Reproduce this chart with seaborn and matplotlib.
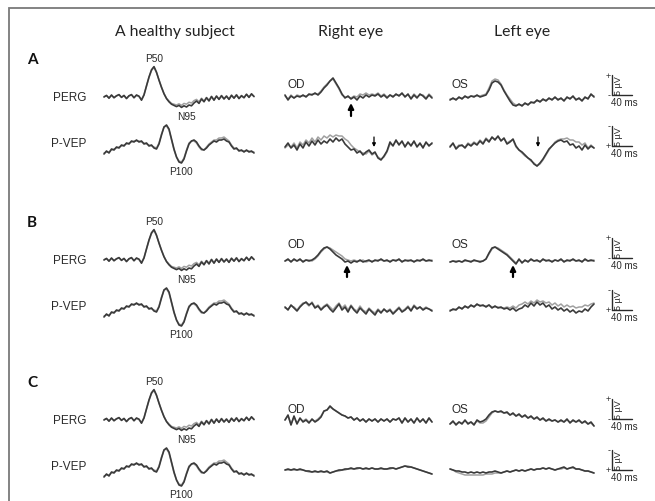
import numpy as np
import matplotlib
matplotlib.use("Agg")
import matplotlib.pyplot as plt
from matplotlib.patches import Rectangle, FancyArrowPatch
import seaborn as sns

sns.set_theme(style="white")
plt.rcParams['font.family'] = ['Liberation Sans', 'DejaVu Sans']

# ---------------- data (µV; VEP stored with positive = downward, negative-up display) ----------------
column_titles = ["A healthy subject", "Right eye", "Left eye"]
row_letters = ["A", "B", "C"]
signal_labels = ["PERG", "P-VEP"]
eye_labels = ["OD", "OS"]
peak_labels = ["P50", "N95", "P100"]
sweep_ms = 300

healthy_perg_dark = [0.0, 0.4, -0.3, 0.5, -0.2, 0.3, 0.6, -0.1, 0.4, -0.4, 0.3, 0.6, -0.2, 0.5, 0.2, -0.8,
                     0.5, 2.8, 5.0, 6.8, 7.6, 6.2, 4.2, 2.4, 0.8, -0.4, -1.2, -1.8, -2.1, -2.4, -2.1, -2.6,
                     -2.2, -2.5, -2.0, -2.2, -1.5, -1.0, -1.6, -0.5, -1.2,
                     -0.2, -1.0, 0.1, -0.8, 0.2, -0.6, 0.3, -0.5, 0.2, -0.6, 0.4, -0.3, 0.5, -0.4, 0.3,
                     -0.2, 0.7, -0.1, 0.8, 0.1]
healthy_perg_light = [0.1, 0.3, -0.2, 0.4, -0.1, 0.3, 0.5, 0.0, 0.3, -0.3, 0.3, 0.5, -0.1, 0.4, 0.1, -0.6,
                      0.6, 2.7, 4.9, 6.6, 7.4, 6.1, 4.3, 2.5, 0.9, -0.3, -1.0, -1.6, -1.8, -2.0, -1.7, -2.1,
                      -1.6, -1.8, -1.3, -1.5, -0.9, -0.6, -1.2, -0.3, -1.0,
                      -0.1, -0.8, 0.2, -0.7, 0.3, -0.5, 0.4, -0.4, 0.3, -0.5, 0.5, -0.2, 0.6, -0.3, 0.4,
                      -0.1, 0.6, 0.0, 0.7, 0.2]
healthy_vep_dark = [2.5, 1.75, 2.25, 1.25, 1.5, 0.75, 1.0, 0.25, 0.5, -0.25, 0, -0.75, -0.5, -1.0, -0.5,
                    -0.75, 0, -0.25, 0.5, 0.25, 1.0, 1.25, 0, -2.25, -4.25, -4.75, -3.75, -1.25, 1.25, 3.25,
                    4.5, 4.75, 3.75, 1.75, 0, -0.75, -1.0, -0.5, 0.5, 1.25, 1.5, 1.0, 0.25, -0.25, -0.75,
                    -0.5, -1.0, -1.0, -1.25, -0.75, -0.5, 0.5, 1.25, 1.0, 1.75, 1.5, 2.0, 1.5, 2.0, 1.75, 2.25]
healthy_vep_light = [2.25, 2.0, 2.0, 1.5, 1.25, 1.0, 0.75, 0.5, 0.25, 0, -0.25, -0.5, -0.75, -0.75, -0.75,
                     -0.5, -0.25, 0, 0.25, 0.5, 0.75, 1.0, -0.25, -2.5, -4.25, -4.5, -3.5, -1.0, 1.5, 3.25,
                     4.25, 4.5, 3.5, 1.5, -0.25, -0.75, -0.75, -0.25, 0.75, 1.5, 1.5, 0.75, 0, -0.5, -1.0,
                     -1.0, -1.5, -1.5, -1.75, -1.25, -0.75, 0.25, 1.0, 1.25, 1.5, 1.75, 1.75, 1.75, 1.75, 2.0, 2.0]

# Row A
ra_perg_dark = [0.5, -0.75, 0.25, -0.25, 0.25, 0, 0.5, 0, 0.75, 0.5,
                1.0, 0.5, 1.25, 2.25, 3.0, 4.0, 4.75, 3.5, 2.25, 0.75,
                -0.25, 0.25, -0.5, 0, -0.75, 0.25, -0.25, 0.5, 0, 0.5,
                0.25, 0.75, 0, 0.5, -0.25, 0.5, 0, 0.75, 0.25, 1.0,
                0, 0.75, -0.5, 0.5, -0.25, 0.75, 0.25, -0.5, 0.5, -0.25]
ra_perg_light = [0.25, -0.5, 0.5, -0.25, 0.5, 0.25, 0.25, 0.25, 0.5, 0.75,
                 0.75, 0.75, 1.5, 2.5, 3.25, 4.0, 4.5, 3.25, 2.0, 0.5,
                 0, 0, -0.25, 0.25, 0, 0.75, 0.5, 1.0, 0.5, 0.75,
                 0.5, 1.0, 0.25, 0.75, 0, 0.5, 0.25, 0.5, 0.5, 0.75,
                 0.25, 0.5, -0.25, 0.75, 0, 0.5, 0.5, -0.25, 0.75, 0]
ra_vep_dark = [0, -1.0, 0.25, -0.5, 0.75, -0.75, 0.25, -1.25, -0.25, -1.5,
               -0.5, -1.75, -0.75, -1.5, -1.0, -2.0, -1.25, -2.25, -1.5, -2.0,
               -0.75, 0, 0.75, 0.5, 1.5, 1.0, 2.0, 1.25, 0.75, 1.75,
               1.25, 2.75, 3.25, 2.25, 1.0, -1.25, -0.25, -1.75, -0.5, -1.5,
               0, -1.25, -0.25, -1.5, 0, -1.0, 0.25, -1.25, -0.25, -1.0]
ra_vep_light = [0.25, -0.5, 0, -1.0, 0.25, -1.25, -0.5, -1.75, -1.0, -2.25,
                -1.25, -2.5, -1.75, -2.75, -2.25, -3.0, -2.5, -3.0, -2.75, -2.75,
                -2.0, -1.5, -0.5, 0.25, 0.75, 1.25, 1.5, 1.75, 1.0, 2.0,
                1.5, 2.5, 3.0, 2.5, 1.25, -0.75, -0.5, -1.5, -0.75, -1.25,
                -0.25, -1.0, -0.5, -1.25, -0.25, -0.75, 0, -1.0, -0.5, -0.75]
la_perg_dark = [-0.75, -0.25, -0.75, 0, -0.5, 0.25, -0.25, 0.25, 0, 0.5,
                0, 0.25, 0.5, 1.75, 3.5, 4.0, 3.75, 3.0, 1.5, 0.25,
                -1.0, -2.0, -2.25, -1.75, -2.25, -1.5, -2.0, -1.25, -1.5, -0.75,
                -1.25, -0.5, -1.0, -0.25, -0.75, 0, -0.75, -0.25, -1.0, 0,
                -0.5, 0.25, -0.75, -0.25, -1.0, 0, -0.5, 0.75, 0]
la_perg_light = [-0.5, -0.5, -0.5, -0.25, -0.25, 0, 0, 0.25, 0.25, 0.25,
                 0.25, 0.5, 0.75, 2.25, 4.0, 4.5, 4.25, 3.25, 1.75, 0.5,
                 -0.5, -1.5, -2.0, -2.0, -2.0, -1.75, -1.75, -1.5, -1.25, -1.0,
                 -1.0, -0.75, -0.75, -0.5, -0.5, -0.25, -0.5, -0.5, -0.75, -0.25,
                 -0.25, 0, -0.5, -0.5, -0.75, -0.25, -0.25, 0.5, 0.25]
la_vep_dark = [0.25, -0.75, 0.75, 0, -0.25, 0.5, -0.5, 0, -0.75, -0.25,
               -1.25, -0.5, -1.75, -1.0, -2.25, -1.5, -2.5, -1.25, -2.0, -0.5,
               -1.0, -1.75, 0, 1.0, 1.5, 2.25, 3.0, 3.5, 4.5, 5.0,
               4.25, 3.25, 2.0, 0.75, 0, -0.75, -1.25, -1.5, -1.0, -1.25,
               -0.25, -0.5, 0.5, 0, 1.0, -0.25, 0.75, 0, 0.5]
la_vep_light = [0, -0.5, 0.5, -0.25, 0, 0.25, -0.75, -0.25, -1.0, -0.5,
                -1.5, -0.75, -2.0, -1.25, -2.0, -1.75, -2.25, -1.5, -1.75, -0.75,
                -1.25, -1.5, 0.25, 1.0, 1.75, 2.5, 3.0, 3.75, 4.25, 5.0,
                4.5, 3.5, 2.25, 1.0, 0, -1.0, -1.5, -1.75, -1.75, -2.0,
                -1.5, -1.5, -1.0, -1.0, -0.25, -0.75, 0.5, -0.25, 0.5]

# Row B
rb_perg_dark = [0, 0.5, -0.25, 0.5, 0, 0.5, -0.25, 0.25, 0, 0.25,
                0.75, 1.5, 2.5, 3.25, 3.5, 3.0, 2.25, 1.5, 1.0, 0.5,
                -0.25, 0, -0.5, 0, -0.25, 0.25, -0.25, 0, 0.25, -0.25,
                0.25, 0, 0.5, 0, 0.25, -0.25, 0.25, 0, 0.5, -0.25,
                0.25, 0, 0.25, -0.25, 0.25, 0, 0.5, 0, 0.25, 0]
rb_perg_light = [0, 0.25, 0, 0.25, 0, 0.25, 0, 0.25, 0.25, 0,
                 0.5, 1.25, 2.25, 3.0, 3.5, 3.25, 2.75, 2.25, 1.75, 1.25,
                 0.5, 0.25, 0, 0.25, 0, 0, 0.25, -0.25, 0, 0,
                 0, 0.25, 0.25, 0, 0, 0, 0.25, 0.25, 0.25, 0,
                 0, 0.25, 0, 0, 0, 0.25, 0.25, 0, 0, 0.25]
rb_vep_dark = [-0.5, 0.25, -1.0, -0.25, 0.5, -0.5, -1.25, -1.75, -1.0, -1.5,
               -0.25, -0.75, 0.25, -0.5, -1.0, 0, 0.75, -0.25, -1.25, 0.25,
               -0.5, 0.75, -0.75, 0.25, 1.0, -0.25, 0.5, 1.25, 0, 0.75,
               1.5, 0.25, 1.0, 0, 0.75, 0.25, 1.25, 0.5, -0.25, 0.75,
               0.25, -0.5, 0.5, -0.75, 0, -0.5, 0.25, -0.25, 0, 0.5]
rb_vep_light = [-0.25, 0, -0.75, -0.5, 0.25, -0.75, -1.5, -1.5, -0.75, -1.75,
                -0.5, -1.0, 0, -0.75, -1.25, -0.5, 0.25, -0.75, -1.5, -0.25,
                -1.0, 0.25, -1.0, 0, 0.5, -0.75, 0.25, 0.75, -0.25, 0.5,
                1.0, 0, 0.75, 0.25, 0.5, 0, 1.0, 0.25, -0.5, 0.5,
                0, -0.75, 0.25, -1.0, -0.25, -0.5, 0, -0.5, 0, 0.25]
lb_perg_dark = [-0.25, 0, -0.25, 0, -0.25, 0.25, 0, -0.25, 0.25, 0, -0.25, 0,
                0.5, 2.0, 3.25, 3.5, 3.0, 2.5, 2.0, 1.5, 0.75, 0,
                -0.75, 0.5, -0.5, 0.25, -0.25, 0.5, 0, 0.25, -0.25, 0.5,
                0, 0.25, -0.25, 0.25, 0, 0.5, -0.25, 0.25, 0, 0.5,
                0, 0.25, -0.25, 0.5, 0, 0.25, 0]
lb_perg_light = [-0.25, 0, 0, 0, -0.25, 0, 0, 0, 0, 0, 0, 0,
                 0.5, 1.75, 3.0, 3.5, 3.25, 2.75, 2.25, 1.75, 1.0, 0.25,
                 -0.5, 0.25, -0.25, 0, 0, 0.25, 0, 0, 0, 0.25,
                 0.25, 0, 0, 0.25, 0, 0.25, 0, 0, 0.25, 0.25,
                 0, 0, 0, 0.25, 0, 0, 0.25]
lb_vep_dark = [0.5, 0, 0.25, -0.5, 0, -0.75, -0.25, -1.0, -0.5, -1.25,
               -0.75, -1.0, -0.5, -1.0, -0.25, -0.75, -0.25, -0.5, 0, -0.25,
               0.25, -0.25, 0.5, 0, -0.25, -1.0, -0.5, -1.5, -0.75, -1.75,
               -1.0, -1.5, -0.5, -1.0, 0, -0.5, 0.25, -0.25, 0.5, 0,
               0.75, 0.25, 1.0, 0.5, 0.75, 0, 0.5, -0.5, -1.25]
lb_vep_light = [0.25, 0.25, 0, -0.25, -0.25, -0.5, -0.5, -0.75, -0.75, -1.0,
                -1.0, -0.75, -0.75, -1.0, -0.5, -0.5, -0.5, -0.25, -0.25, -0.5,
                -0.25, -0.75, -0.25, -1.0, -1.25, -1.75, -1.25, -2.0, -1.5, -2.25,
                -1.75, -2.0, -1.5, -1.75, -1.0, -1.5, -0.75, -1.25, -0.5, -1.0,
                -0.5, -0.75, -0.25, -0.5, -0.5, -1.0, -0.75, -1.25, -1.5]

# Row C
rc_perg_dark = [0.25, 1.5, -1.0, 1.25, -0.75, 0.75, -0.25, 0.25, -0.5, 0.5,
                -0.25, 0.25, 1.0, 2.5, 2.75, 3.75, 3.0, 2.5, 2.0, 1.5,
                1.25, 0.75, 1.0, 0.25, 0.75, 0, 0.5, -0.25, 0.5, 0,
                0.5, -0.25, 0.5, 0, 0.5, -0.25, 0.5, 0.25, 0.75, -0.5,
                0.75, -0.25, 0.5, -0.5, 0.75, -0.25, 0.5, -0.5, 0.75, -0.25]
rc_perg_light = [0.25, 1.25, -0.75, 1.0, -0.5, 0.5, 0, 0.5, -0.25, 0.25,
                 0, 0.5, 1.25, 2.5, 2.75, 3.5, 3.0, 2.5, 2.0, 1.5,
                 1.25, 0.75, 1.0, 0.25, 0.75, 0, 0.5, -0.25, 0.5, 0,
                 0.5, -0.25, 0.5, 0, 0.5, -0.25, 0.5, 0.25, 0.75, -0.5,
                 0.75, -0.25, 0.5, -0.5, 0.75, -0.25, 0.5, -0.5, 0.75, -0.25]
rc_vep_dark = [-0.25, -0.5, -0.25, -0.5, -0.25, -0.5, -0.25, 0, 0, 0.25,
               0, 0.25, 0, 0.25, 0, 0.5, 0.25, 0, -0.25, -0.25,
               -0.5, -0.5, -0.75, -0.5, -0.75, -0.75, -0.5, -0.75, -0.5, -0.75,
               -0.5, -0.5, -0.75, -0.5, -0.5, -0.75, -0.75, -0.5, -0.75, -1.0,
               -1.25, -1.0, -1.0, -0.75, -0.5, -0.25, 0, 0.25, 0.5, 0.75]
rc_vep_light = [-0.25, -0.25, -0.25, -0.25, -0.25, -0.25, -0.25, 0, 0.25, 0.25,
                0.25, 0.25, 0.25, 0.25, 0.25, 0.5, 0.25, 0, 0, -0.25,
                -0.25, -0.5, -0.5, -0.5, -0.5, -0.75, -0.5, -0.5, -0.5, -0.75,
                -0.5, -0.5, -0.5, -0.5, -0.5, -0.5, -0.75, -0.5, -0.75, -1.0,
                -1.25, -1.25, -1.0, -0.75, -0.5, -0.25, 0, 0.25, 0.5, 0.75]
lc_perg_dark = [0, 0.75, -0.25, 0.5, 0, 1.0, 0, 0.5, -0.25, 1.0,
                0.5, 0.75, 1.25, 2.25, 3.0, 3.25, 3.0, 3.25, 2.75, 3.0,
                2.25, 2.75, 2.0, 2.5, 1.75, 2.25, 1.5, 2.0, 1.25, 1.75,
                1.0, 1.5, 0.75, 1.25, 0.75, 1.0, 0.5, 1.0, 0.5, 1.25,
                0.25, 1.0, 0.5, 1.0, 0.25, 0.75, 0, 0.5, -0.5]
lc_perg_light = [0, 0.5, 0, 0.5, 0.25, 0.75, 0.25, 0.5, 0, 0.75,
                 0.25, 0.25, 0.75, 1.75, 2.75, 3.25, 3.0, 3.0, 2.75, 2.75,
                 2.25, 2.5, 2.0, 2.25, 1.75, 2.0, 1.5, 1.75, 1.25, 1.5,
                 1.0, 1.25, 0.75, 1.0, 0.75, 1.0, 0.5, 0.75, 0.5, 1.0,
                 0.5, 0.75, 0.5, 0.75, 0.25, 0.5, 0, 0.25, -0.5]
lc_vep_dark = [-0.5, -0.25, 0, 0, 0.25, 0.25, 0.5, 0.25, 0.5, 0.25,
               0.5, 0.25, 0.5, 0.25, 0.25, 0, 0.25, 0.5, 0.25, 0,
               0.25, 0, -0.25, 0, -0.25, 0, -0.25, -0.5, -0.25, -0.5,
               -0.5, -0.75, -0.5, -0.75, -0.5, -0.25, -0.5, -0.75, -1.0, -0.5,
               -0.75, -1.0, -0.5, -0.5, -0.25, 0, 0, 0.25, 0.5]
lc_vep_light = [-0.5, -0.25, 0.25, 0.5, 0.75, 1.0, 1.0, 1.0, 1.0, 1.0,
                1.0, 1.0, 0.75, 0.75, 0.75, 0.5, 0.5, 0.5, 0.25, 0,
                0.25, 0, -0.25, 0, -0.25, 0, -0.25, -0.5, -0.25, -0.5,
                -0.5, -0.75, -0.5, -0.75, -0.5, -0.25, -0.5, -0.5, -0.75, -0.5,
                -0.75, -0.75, -0.5, -0.5, -0.25, 0, 0, 0.25, 0.5]

patient_rows = [
    {"right": (ra_perg_dark, ra_perg_light, ra_vep_dark, ra_vep_light),
     "left": (la_perg_dark, la_perg_light, la_vep_dark, la_vep_light)},
    {"right": (rb_perg_dark, rb_perg_light, rb_vep_dark, rb_vep_light),
     "left": (lb_perg_dark, lb_perg_light, lb_vep_dark, lb_vep_light)},
    {"right": (rc_perg_dark, rc_perg_light, rc_vep_dark, rc_vep_light),
     "left": (lc_perg_dark, lc_perg_light, lc_vep_dark, lc_vep_light)},
]

# ---------------- layout (pixels, top-left origin) ----------------
W, H = 655, 502
PX_PER_UV = 4.0
COL_X = {"healthy": (104, 254), "right": (285, 432), "left": (450, 594)}
ROW_OFF = [0, 163, 323]
PERG_BASE = [{"healthy": 98, "right": 98, "left": 98},
             {"healthy": 261, "right": 262, "left": 262},
             {"healthy": 421, "right": 422, "left": 425}]
VEP_BASE = [{"healthy": 145, "right": 148, "left": 147},
            {"healthy": 308, "right": 310, "left": 310},
            {"healthy": 468, "right": 472, "left": 472}]
OD_Y = [85, 245, 410]
PERG_BAR = [96, 259, 420]
VEP_BAR = [147, 311, 471]
DARK, LIGHT = "#3a3a3a", "#a0a0a0"
INK = "#2a2a2a"

fig = plt.figure(figsize=(W / 100, H / 100), dpi=100)
fig.patch.set_facecolor("white")

# frame
fig.add_artist(Rectangle((8.7 / W, -0.1), 1.2, 1.1 - 9.3 / H, transform=fig.transFigure,
                         fill=False, edgecolor="#7a7a7a", lw=1.3))


def fx(x):
    return x / W


def fy(y):
    return 1 - y / H


def draw_pair(col, base, kind, dark, light, half=44):
    x0, x1 = COL_X[col]
    ax = fig.add_axes([fx(x0), fy(base + half), (x1 - x0) / W, 2 * half / H])
    lim = half / PX_PER_UV
    for vals, color, lw in ((light, LIGHT, 1.1), (dark, DARK, 1.2)):
        t = np.linspace(0, sweep_ms, len(vals))
        sns.lineplot(x=t, y=np.asarray(vals, float), ax=ax, color=color, lw=lw,
                     estimator=None, sort=False, clip_on=False)
    ax.set_xlim(0, sweep_ms)
    ax.set_ylim((lim, -lim) if kind == "VEP" else (-lim, lim))
    ax.set_axis_off()
    return ax


def scale_bar(bottom, kind):
    px_per_ms = (COL_X["right"][1] - COL_X["right"][0]) / sweep_ms
    ax = fig.add_axes([fx(600), fy(bottom + 14), 52 / W, 44 / H])
    ax.set_xlim(-12 / px_per_ms, 40 / px_per_ms)
    top, bot = 30 / PX_PER_UV, 14 / PX_PER_UV
    sgn = 1 if kind == "PERG" else -1
    ax.plot([0, 0], [0, 5 * sgn], color=INK, lw=1.0)
    ax.plot([0, 40], [0, 0], color=INK, lw=1.0)
    if kind == "PERG":
        ax.set_ylim(-bot, top)
        ax.text(-2, 5, "+", ha="right", va="center", fontsize=6.5, color=INK)
        ax.text(-2, 0, "-", ha="right", va="center", fontsize=6.5, color=INK)
        ax.text(4, 2.5, "5 µV", rotation=90, ha="left", va="center", fontsize=6.5, color=INK)
        ax.text(25, -0.6, "40 ms", ha="center", va="top", fontsize=7, color=INK)
    else:
        ax.set_ylim(bot, -top)
        ax.text(-2, -5, "-", ha="right", va="center", fontsize=6.5, color=INK)
        ax.text(-2, 0, "+", ha="right", va="center", fontsize=6.5, color=INK)
        ax.text(4, -2.5, "5 µV", rotation=90, ha="left", va="center", fontsize=6.5, color=INK)
        ax.text(25, 0.6, "40 ms", ha="center", va="top", fontsize=7, color=INK)
    ax.set_axis_off()


# titles
for title, cx in zip(column_titles, [175, 351, 522]):
    fig.text(fx(cx), fy(32), title, ha="center", va="center", fontsize=11.3,
             family=["Lato", "DejaVu Sans"], color="#222222")

for r in range(3):
    off = ROW_OFF[r]
    fig.text(fx(32), fy(60 + off), row_letters[r], ha="center", va="center", fontsize=11,
             fontweight="bold", family=["Lato", "DejaVu Sans"], color="#111111")
    fig.text(fx(53), fy(98 + off), signal_labels[0], ha="left", va="center", fontsize=8.5, color=INK)
    fig.text(fx(51), fy(144 + off), signal_labels[1], ha="left", va="center", fontsize=8.5, color=INK)

    # healthy subject
    draw_pair("healthy", PERG_BASE[r]["healthy"], "PERG", healthy_perg_dark, healthy_perg_light)
    draw_pair("healthy", VEP_BASE[r]["healthy"], "VEP", healthy_vep_dark, healthy_vep_light)
    fig.text(fx(154), fy(59 + off), peak_labels[0], ha="center", va="center", fontsize=7.3, color=INK)
    fig.text(fx(186), fy(117 + off), peak_labels[1], ha="center", va="center", fontsize=7.3, color=INK)
    fig.text(fx(181), fy(172 + off), peak_labels[2], ha="center", va="center", fontsize=7.3, color=INK)

    # patient eyes
    for col, lab, lx in (("right", eye_labels[0], 287), ("left", eye_labels[1], 452)):
        pd_, pl_, vd_, vl_ = patient_rows[r][col]
        draw_pair(col, PERG_BASE[r][col], "PERG", pd_, pl_)
        draw_pair(col, VEP_BASE[r][col], "VEP", vd_, vl_)
        fig.text(fx(lx), fy(OD_Y[r]), lab, ha="left", va="center", fontsize=8.5, color=INK)

    scale_bar(PERG_BAR[r], "PERG")
    scale_bar(VEP_BAR[r], "VEP")

# arrows (annotations)
thick = dict(arrowstyle="-|>", lw=1.6, color="black", mutation_scale=8, shrinkA=0, shrinkB=0)
thin = dict(arrowstyle="-|>", lw=0.9, color="black", mutation_scale=5, shrinkA=0, shrinkB=0)
for (x, y0, y1, style) in [(351, 117, 104, thick), (347, 278, 266, thick), (513, 278, 266, thick),
                           (374, 138, 148, thin), (538, 138, 148, thin)]:
    fig.add_artist(FancyArrowPatch((fx(x), fy(y0)), (fx(x), fy(y1)),
                                   transform=fig.transFigure, **style))

fig.savefig("out.png", dpi=100, facecolor="white")
